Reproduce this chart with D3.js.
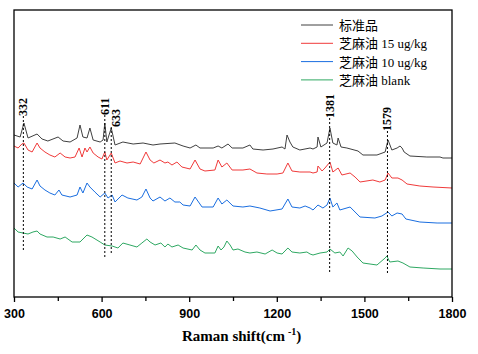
<!DOCTYPE html>
<html>
<head>
<meta charset="utf-8">
<script src="https://cdn.jsdelivr.net/npm/d3@7"></script>
<style>
  body { margin: 0; background: #fff; }
  svg { display: block; }
</style>
</head>
<body>
<div id="chart"></div>
<script>
// spectra: [wavenumber (cm-1), intensity (a.u.)]
const standard = [
    [300,162],[321,160],[334,174],[348,159],[379,163],[396,158],[416,156],[451,160],[468,156],
    [492,155],[516,159],[526,172],[536,160],[550,159],[560,169],[571,157],[595,155],[605,157],
    [611,174],[618,155],[633,169],[646,152],[673,155],[708,153],[742,154],[776,152],[800,153],
    [851,154],[879,151],[903,149],[923,152],[937,149],[982,149],[999,151],[1012,149],[1033,153],
    [1047,149],[1084,149],[1108,152],[1118,148],[1153,147],[1187,148],[1218,150],[1228,148],
    [1235,162],[1245,155],[1255,150],[1279,147],[1314,149],[1324,148],[1338,150],[1341,160],
    [1351,150],[1372,154],[1382,169],[1392,154],[1406,152],[1410,159],[1420,150],[1440,149],
    [1478,146],[1495,142],[1543,142],[1571,145],[1581,157],[1594,147],[1612,149],[1622,151],
    [1629,149],[1636,145],[1656,141],[1714,140],[1759,140],[1769,139],[1800,139]
];
const oil15 = [
    [300,151],[314,149],[327,153],[334,154],[348,147],[362,145],[379,154],[389,149],[406,145],
    [423,142],[440,140],[458,144],[475,140],[492,139],[509,140],[523,149],[533,140],[543,149],
    [550,145],[560,150],[571,144],[588,140],[601,138],[611,145],[618,137],[633,144],[646,134],
    [663,136],[687,134],[708,135],[732,133],[752,145],[766,137],[779,134],[800,137],[817,134],
    [827,135],[841,132],[858,135],[875,130],[903,128],[920,137],[937,128],[954,126],[988,127],
    [999,137],[1012,130],[1029,134],[1047,127],[1084,127],[1108,128],[1132,124],[1166,123],
    [1201,123],[1221,124],[1238,134],[1252,126],[1279,125],[1314,125],[1324,124],[1338,125],
    [1341,131],[1355,126],[1365,129],[1382,135],[1392,125],[1410,129],[1423,122],[1451,124],
    [1468,120],[1485,115],[1529,117],[1553,115],[1571,117],[1581,124],[1594,119],[1615,119],
    [1629,117],[1646,113],[1690,111],[1735,110],[1800,109]
];
const oil10 = [
    [300,114],[314,110],[331,114],[345,110],[362,108],[379,117],[389,111],[406,107],[423,104],
    [440,102],[454,107],[464,102],[492,100],[516,102],[526,110],[536,104],[550,114],[560,110],
    [577,105],[595,100],[611,104],[622,99],[636,102],[646,95],[670,102],[690,99],[721,97],
    [738,100],[752,108],[766,99],[776,96],[800,100],[817,96],[834,99],[851,95],[868,95],
    [879,92],[903,91],[920,100],[944,90],[982,90],[999,99],[1012,93],[1029,97],[1050,91],
    [1084,90],[1108,91],[1142,89],[1177,86],[1218,88],[1238,98],[1252,90],[1279,89],[1297,91],
    [1314,89],[1324,87],[1341,92],[1358,89],[1372,92],[1382,99],[1392,90],[1406,94],[1416,87],
    [1451,90],[1468,85],[1485,80],[1536,79],[1560,81],[1581,85],[1594,81],[1612,84],[1629,83],
    [1642,78],[1690,75],[1749,74],[1800,74]
];
const oilBlank = [
    [300,69],[314,65],[331,64],[348,63],[365,65],[379,66],[389,63],[413,60],[434,60],[458,58],
    [475,60],[499,55],[526,55],[550,62],[567,60],[595,55],[611,52],[636,51],[656,49],[673,54],
    [697,52],[721,50],[738,54],[755,58],[766,55],[783,52],[803,54],[817,50],[827,53],[841,50],
    [862,52],[879,49],[910,47],[923,52],[937,47],[954,44],[988,44],[999,51],[1009,47],[1019,50],
    [1029,56],[1040,52],[1050,47],[1067,48],[1091,45],[1108,44],[1132,45],[1160,43],[1184,47],
    [1201,44],[1218,43],[1238,49],[1252,45],[1279,44],[1303,45],[1314,43],[1324,42],[1348,44],
    [1372,45],[1382,48],[1399,44],[1416,45],[1427,41],[1444,49],[1458,46],[1475,40],[1495,34],
    [1543,32],[1571,39],[1577,41],[1587,35],[1615,36],[1632,34],[1656,30],[1701,29],[1759,28],
    [1800,28]
];
const seriesNames = ["标准品", "芝麻油 15 ug/kg", "芝麻油 10 ug/kg", "芝麻油 blank"];
const seriesColors = ["#404040", "#f03a3a", "#1a6ee0", "#2ea862"];
// marked peaks: wavenumber, label top intensity, dotted line end intensity
const peaks = [332, 611, 633, 1381, 1579];
const peakLabelBase = [181, 182, 170, 179, 166];
const peakLineEnd = [47, 40, 42, 25, 24];
const xTicks = [300, 600, 900, 1200, 1500, 1800];
const xMinorTicks = [450, 750, 1050, 1350, 1650];

function init() {
    let w = 478;
    let h = 354;
    let left = 14, right = 452, top = 10, bottom = 297;

    let svg = d3.select("#chart")
        .append("svg")
        .attr("width", w)
        .attr("height", h);

    let x = d3.scaleLinear().domain([300, 1800]).range([left, right]);
    let y = d3.scaleLinear().domain([0, 287]).range([bottom, top]);

    let line = d3.line()
        .x(d => x(d[0]))
        .y(d => y(d[1]));

    let allSeries = [standard, oil15, oil10, oilBlank];

    svg.selectAll("path.spec")
        .data(allSeries)
        .enter()
        .append("path")
        .attr("class", "spec")
        .attr("d", line)
        .attr("fill", "none")
        .attr("stroke", (d, i) => seriesColors[i])
        .attr("stroke-width", 1);

    // dotted peak markers
    svg.selectAll("line.peak")
        .data(peaks)
        .enter()
        .append("line")
        .attr("x1", d => x(d))
        .attr("x2", d => x(d))
        .attr("y1", (d, i) => y(peakLabelBase[i]))
        .attr("y2", (d, i) => y(peakLineEnd[i]))
        .attr("stroke", "#000")
        .attr("stroke-width", 1)
        .attr("stroke-dasharray", "2,2");

    svg.selectAll("text.peak")
        .data(peaks)
        .enter()
        .append("text")
        .attr("transform", (d, i) => {
            let px = x(d) + 4 + (d === 633 ? 5 : 0);
            let py = y(peakLabelBase[i]);
            return "translate(" + px + "," + py + ") rotate(-90)";
        })
        .attr("font-family", "'Liberation Serif', 'Times New Roman', serif")
        .attr("font-weight", "bold")
        .attr("font-size", "12px")
        .text(d => d);

    // frame
    svg.append("rect")
        .attr("x", left)
        .attr("y", top)
        .attr("width", right - left)
        .attr("height", bottom - top)
        .attr("fill", "none")
        .attr("stroke", "#000")
        .attr("stroke-width", 1.3);

    // x axis
    let xAxis = svg.append("g")
        .attr("transform", "translate(0," + bottom + ")")
        .call(d3.axisBottom(x).tickValues(xTicks).tickSize(5).tickPadding(7).tickFormat(d3.format("d")));
    xAxis.select(".domain").remove();
    xAxis.selectAll("line").attr("stroke-width", 1.3);
    xAxis.selectAll("text")
        .attr("font-family", "'Liberation Sans', Arial, sans-serif")
        .attr("font-weight", "bold")
        .attr("font-size", "12.5px")
        .attr("fill", "#000");

    let xMinor = svg.append("g")
        .attr("transform", "translate(0," + bottom + ")")
        .call(d3.axisBottom(x).tickValues(xMinorTicks).tickSize(4).tickFormat(""));
    xMinor.select(".domain").remove();
    xMinor.selectAll("line").attr("stroke-width", 1.3);

    let title = svg.append("text")
        .attr("x", 182)
        .attr("y", 341)
        .attr("font-family", "'Liberation Serif', 'Times New Roman', serif")
        .attr("font-weight", "bold")
        .attr("font-size", "15px")
        .attr("fill", "#000");
    title.append("tspan").text("Raman shift(cm");
    title.append("tspan").attr("dy", -6).attr("dx", 3).attr("font-size", "10px").text("-1");
    title.append("tspan").attr("dy", 6).text(")");

    // legend
    let legend = svg.selectAll("g.legend")
        .data(seriesNames)
        .enter()
        .append("g")
        .attr("class", "legend")
        .attr("transform", (d, i) => "translate(301," + (25 + i * 18.3) + ")");
    legend.append("line")
        .attr("x1", 0)
        .attr("x2", 32)
        .attr("stroke", (d, i) => seriesColors[i])
        .attr("stroke-width", 1);
    legend.append("text")
        .attr("x", 38)
        .attr("y", 5)
        .attr("font-family", "'Liberation Serif', 'Noto Sans CJK SC', serif")
        .attr("font-size", "13px")
        .attr("fill", "#000")
        .text(d => d);
}

window.onload = init;
</script>
</body>
</html>
